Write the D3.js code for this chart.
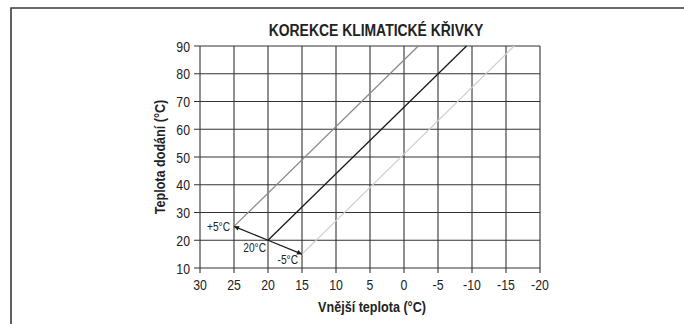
<!DOCTYPE html>
<html>
<head>
<meta charset="utf-8">
<script src="https://cdn.jsdelivr.net/npm/d3@7"></script>
<style>
  html, body { margin: 0; padding: 0; background: #fff; }
  svg { display: block; }
  text { font-family: "Liberation Sans", Arial, sans-serif; fill: #222; }
</style>
</head>
<body>
<svg id="chart" width="684" height="324"></svg>
<script>
// Outdoor temperature ticks (axis runs from warm to cold)
const xTicks = [30, 25, 20, 15, 10, 5, 0, -5, -10, -15, -20];
// Supply temperature ticks
const yTicks = [10, 20, 30, 40, 50, 60, 70, 80, 90];

// Heating curves: base curve for 20 °C room setpoint and its shifted variants
const curveNames = ["+5°C", "20°C", "-5°C"];
const curveStarts = [[25, 25], [20, 20], [15, 15]];
const curveEnds = [[-2.1, 90], [-9.2, 90], [-16.2, 90]];
const curveColors = ["#8a8a8a", "#1a1a1a", "#cfcfcf"];

// Correction arrows from the base point to the shifted starts
const arrowFrom = [20, 20];
const arrowTo = [[25, 25], [15, 15]];

const title = "KOREKCE KLIMATICKÉ KŘIVKY";
const xTitle = "Vnější teplota (°C)";
const yTitle = "Teplota dodání (°C)";

const svg = d3.select("#chart");

// Condensed text: horizontal squeeze to mimic a narrow typeface
function narrowText(parent, px, py, str, opts) {
  const o = Object.assign({ size: 14, anchor: "middle", weight: "normal", sx: 0.85, rotate: 0 }, opts);
  return parent.append("text")
    .attr("transform", `translate(${px},${py}) rotate(${o.rotate}) scale(${o.sx},1)`)
    .attr("text-anchor", o.anchor)
    .attr("font-size", o.size)
    .attr("font-weight", o.weight)
    .text(str);
}

// Panel frame (left and top edge)
svg.append("path")
  .attr("d", "M11,324V8H684")
  .attr("fill", "none")
  .attr("stroke", "#3a3a3a")
  .attr("stroke-width", 1.6);

const x = d3.scaleLinear().domain([30, -20]).range([200, 540]);
const y = d3.scaleLinear().domain([10, 90]).range([268, 46]);

const gridColor = "#333";

// Vertical grid lines (extend below the axis as ticks)
svg.append("g").selectAll("line").data(xTicks).join("line")
  .attr("x1", d => x(d)).attr("x2", d => x(d))
  .attr("y1", y(90)).attr("y2", y(10) + 5)
  .attr("stroke", gridColor).attr("stroke-width", 1.1);

// Horizontal grid lines (extend left of the axis as ticks)
svg.append("g").selectAll("line").data(yTicks).join("line")
  .attr("x1", x(30) - 6).attr("x2", x(-20))
  .attr("y1", d => y(d)).attr("y2", d => y(d))
  .attr("stroke", gridColor).attr("stroke-width", 1.1);

// Tick labels
const tickG = svg.append("g");
xTicks.forEach(d => narrowText(tickG, x(d), y(10) + 22, String(d), { size: 15, sx: 0.82 }));
yTicks.forEach(d => narrowText(tickG, x(30) - 10, y(d) + 5.5, String(d), { size: 15, sx: 0.82, anchor: "end" }));

// Curves
const line = d3.line().x(d => x(d[0])).y(d => y(d[1]));
curveNames.forEach((name, i) => {
  svg.append("path")
    .datum([curveStarts[i], curveEnds[i]])
    .attr("d", line)
    .attr("fill", "none")
    .attr("stroke", curveColors[i])
    .attr("stroke-width", 1.3);
});

// Arrow marker
svg.append("defs").append("marker")
  .attr("id", "arrow")
  .attr("viewBox", "0 0 10 10")
  .attr("refX", 10).attr("refY", 5)
  .attr("markerWidth", 7).attr("markerHeight", 5)
  .attr("markerUnits", "userSpaceOnUse")
  .attr("orient", "auto")
  .append("path").attr("d", "M0,0L10,5L0,10Z").attr("fill", "#1a1a1a");

arrowTo.forEach(t => {
  svg.append("path")
    .datum([arrowFrom, t])
    .attr("d", line)
    .attr("stroke", "#1a1a1a")
    .attr("stroke-width", 1.3)
    .attr("marker-end", "url(#arrow)");
});

// Curve labels near their starting points
const labelOffsets = [[-4, 4.5], [-2, 12], [-4, 10]];
curveNames.forEach((name, i) => {
  const p = curveStarts[i];
  narrowText(svg, x(p[0]) + labelOffsets[i][0], y(p[1]) + labelOffsets[i][1], name,
    { size: 12, sx: 0.85, anchor: "end" });
});

// Titles
narrowText(svg, 376, 36, title, { size: 16, sx: 0.87, weight: "bold" });
narrowText(svg, 372, 312, xTitle, { size: 15, sx: 0.84, weight: "bold" });
narrowText(svg, 165, y(50), yTitle, { size: 15, sx: 0.84, weight: "bold", rotate: -90 });
</script>
</body>
</html>
